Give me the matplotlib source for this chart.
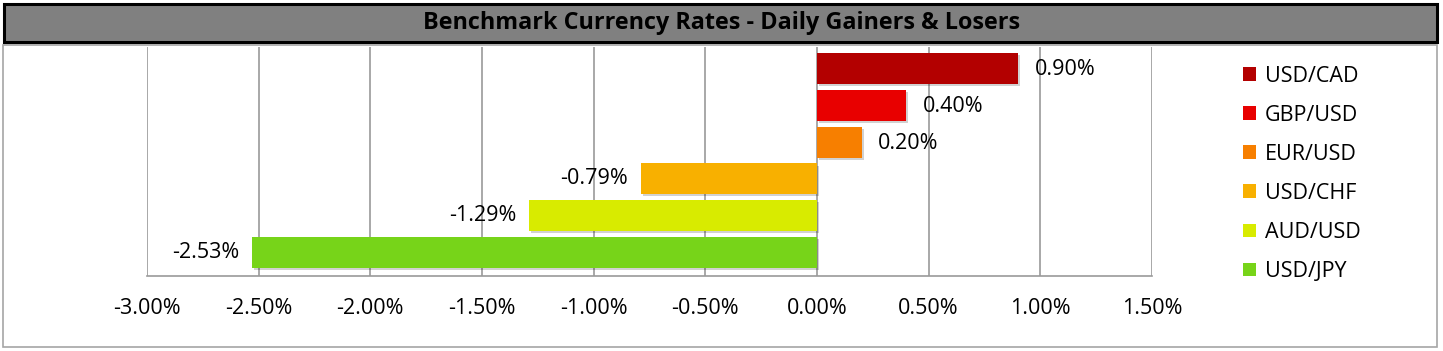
import matplotlib
matplotlib.use("Agg")
import matplotlib.pyplot as plt
from matplotlib.patches import Rectangle, Patch
from matplotlib.ticker import FuncFormatter, MultipleLocator
import matplotlib.patheffects as pe

plt.rcParams['font.family'] = ['Open Sans', 'DejaVu Sans']

pairs = ["USD/CAD", "GBP/USD", "EUR/USD", "USD/CHF", "AUD/USD", "USD/JPY"]
values = [0.90, 0.40, 0.20, -0.79, -1.29, -2.53]
colors = ["#B30000", "#E80000", "#F77F00", "#F8B000", "#D8EB00", "#77D419"]
title = "Benchmark Currency Rates - Daily Gainers & Losers"

W, H = 1443, 351
fig = plt.figure(figsize=(W / 100, H / 100), dpi=100)

def fx(px):
    return px / W

def fy(py):
    return 1 - py / H

FS = 15.5

# outer chart border
fig.patches.append(Rectangle((fx(3), fy(347)), fx(1437) - fx(3), fy(45) - fy(347),
                             transform=fig.transFigure, facecolor="white",
                             edgecolor="#A6A6A6", lw=1.2, zorder=-2))
# title bar
fig.patches.append(Rectangle((fx(4), fy(42)), fx(1437) - fx(4), fy(4) - fy(42),
                             transform=fig.transFigure, facecolor="#808080",
                             edgecolor="black", lw=2.2, zorder=-1))
fig.text(0.5, fy(23), title, ha="center", va="center", fontsize=16.8,
         fontweight="bold", color="black")

ax = fig.add_axes([fx(147), fy(275.5), fx(1152) - fx(147), fy(47) - fy(275.5)])
ax.set_zorder(5)
ax.set_facecolor("none")
ypos = list(range(len(pairs)))
bars = ax.barh(ypos, values, height=0.84, color=colors, zorder=3,
               path_effects=[pe.SimplePatchShadow(offset=(1.5, -1.5), alpha=0.18,
                                                  shadow_rgbFace="#000000"), pe.Normal()])
ax.set_ylim(5.625, -0.584)
ax.set_xlim(-3.0, 1.5)
ax.xaxis.set_major_locator(MultipleLocator(0.5))
ax.xaxis.set_major_formatter(FuncFormatter(lambda v, p: f"{v:.2f}%"))
ax.set_yticks([])
ax.grid(axis="x", color="#9A9A9A", lw=1.2, zorder=0)
for s in ["top", "left", "right"]:
    ax.spines[s].set_visible(False)
ax.spines["bottom"].set_color("#9A9A9A")
ax.spines["bottom"].set_linewidth(1.2)
ax.tick_params(axis="x", length=0, pad=16, labelsize=FS, colors="black")

for yv, v in zip(ypos, values):
    if v >= 0:
        ax.annotate(f"{v:.2f}%", (v, yv), xytext=(12, -1), textcoords="offset points",
                    ha="left", va="center", fontsize=FS)
    else:
        ax.annotate(f"{v:.2f}%", (v, yv), xytext=(-9, 0), textcoords="offset points",
                    ha="right", va="center", fontsize=FS)

handles = [Patch(facecolor=c, edgecolor="none") for c in colors]
fig.legend(handles, pairs, loc="upper left", bbox_to_anchor=(fx(1234), fy(57)),
           frameon=False, fontsize=FS, handlelength=0.6, handleheight=0.6,
           handletextpad=0.42, labelspacing=0.84, borderaxespad=0)

fig.savefig("out.png", dpi=100)
